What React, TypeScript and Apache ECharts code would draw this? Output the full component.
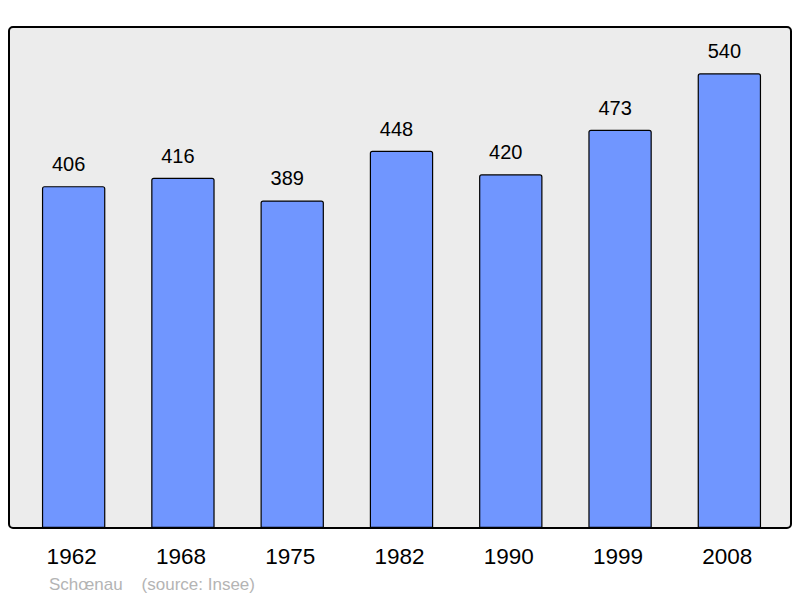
import React, { useEffect, useRef } from "react";
import * as echarts from "echarts";

const years = ["1962", "1968", "1975", "1982", "1990", "1999", "2008"];
const population = [406, 416, 389, 448, 420, 473, 540];
const footer = "Schœnau    (source: Insee)";

export default function App() {
  const ref = useRef<HTMLDivElement>(null);
  useEffect(() => {
    document.body.style.margin = "0";
    const chart = echarts.init(ref.current!, null, { renderer: "svg" });
    chart.setOption({
      animation: false,
      backgroundColor: "#ffffff",
      grid: { left: 19, right: 16, top: 27, bottom: 70 },
      xAxis: {
        type: "category",
        data: years,
        axisLine: { show: false },
        axisTick: { show: false },
        axisLabel: {
          margin: 17,
          fontSize: 22.5,
          color: "#000",
          padding: [0, 4, 0, 0],
          fontFamily: "Liberation Sans, Arial, sans-serif",
        },
      },
      yAxis: {
        type: "value",
        min: 0,
        max: 595,
        show: false,
        splitLine: { show: false },
      },
      graphic: [
        {
          type: "rect",
          z: -10,
          shape: { x: 9, y: 27, width: 782, height: 501, r: 4 },
          style: { fill: "#ececec", stroke: "#000", lineWidth: 2 },
        },
        {
          type: "text",
          left: 49,
          top: 576,
          style: {
            text: footer,
            fill: "#b4b4b4",
            fontSize: 17,
            fontFamily: "Liberation Sans, Arial, sans-serif",
          },
        },
      ],
      series: [
        {
          type: "bar",
          data: population,
          barWidth: "58%",
          itemStyle: {
            color: "#7096ff",
            borderColor: "#000",
            borderWidth: 1.2,
            borderRadius: [2, 2, 0, 0],
          },
          label: {
            show: true,
            position: "top",
            distance: 12,
            offset: [-5, 0],
            fontSize: 20,
            color: "#000",
            fontFamily: "Liberation Sans, Arial, sans-serif",
          },
        },
      ],
    });
    return () => chart.dispose();
  }, []);
  return <div ref={ref} style={{ width: 800, height: 598 }} />;
}
